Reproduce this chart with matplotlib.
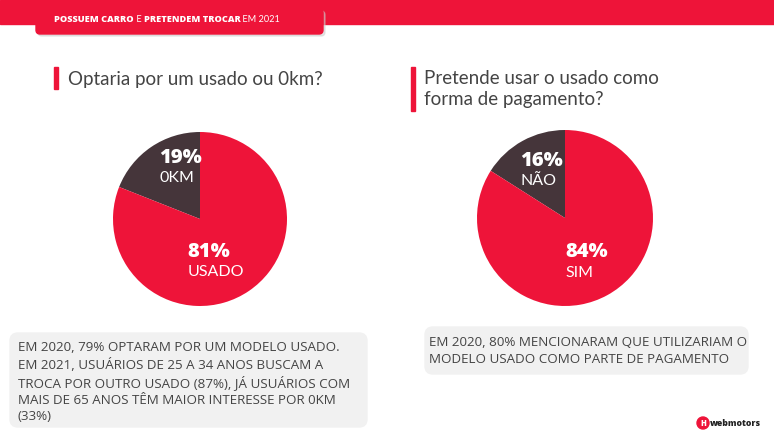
import matplotlib.pyplot as plt
from matplotlib.patches import FancyBboxPatch, Rectangle, Circle

RED = "#ee1439"
DARK = "#45353a"
GRAY_TXT = "#444444"
BOX = "#f1f1f1"

plt.rcParams['font.family'] = ['Lato', 'DejaVu Sans']
HEAVY = ["Open Sans", "DejaVu Sans"]

# data
pie1_labels = ["0KM", "USADO"]
pie1_values = [19, 81]
pie2_labels = ["NÃO", "SIM"]
pie2_values = [16, 84]
q1 = "Optaria por um usado ou 0km?"
q2 = "Pretende usar o usado como\nforma de pagamento?"
note1 = ("EM 2020, 79% OPTARAM POR UM MODELO USADO.\n"
         "EM 2021, USUÁRIOS DE 25 A 34 ANOS BUSCAM A\n"
         "TROCA POR OUTRO USADO (87%), JÁ USUÁRIOS COM\n"
         "MAIS DE 65 ANOS TÊM MAIOR INTERESSE POR 0KM\n"
         "(33%)")
note2 = ("EM 2020, 80% MENCIONARAM QUE UTILIZARIAM O\n"
         "MODELO USADO COMO PARTE DE PAGAMENTO")

W, H = 774, 436
fig = plt.figure(figsize=(W / 100, H / 100), dpi=100)
bg = fig.add_axes([0, 0, 1, 1])
bg.set_xlim(0, W)
bg.set_ylim(H, 0)
bg.axis("off")

# top band and title tab
bg.add_patch(Rectangle((0, 0), W, 24, color=RED, zorder=1))
bg.add_patch(FancyBboxPatch((38, 11), 287, 25, boxstyle="round,pad=0,rounding_size=4",
                            color="#cccccc", alpha=0.5, zorder=1.5))
bg.add_patch(FancyBboxPatch((36, 9), 287, 25, boxstyle="round,pad=0,rounding_size=4",
                            color=RED, zorder=2))
x = 54
for txt, w, fam in [("POSSUEM CARRO", "heavy", HEAVY), (" E ", "normal", None),
                    ("PRETENDEM TROCAR", "heavy", HEAVY), (" EM 2021", "normal", None)]:
    kw = {"fontfamily": fam} if fam else {}
    t = bg.text(x, 20, txt, color="white", fontsize=6.6, fontweight=w,
                va="center", ha="left", zorder=3, **kw)
    fig.canvas.draw()
    bb = t.get_window_extent()
    x += bb.width

# headings
bg.add_patch(Rectangle((54, 67), 3.5, 22, color=RED))
bg.text(68, 79, q1, fontsize=13.5, color=GRAY_TXT, va="center", ha="left")
bg.add_patch(Rectangle((411, 67), 3.5, 44, color=RED))
bg.text(424, 89, q2, fontsize=13.5, color=GRAY_TXT, va="center", ha="left",
        linespacing=1.25)

# note boxes
bg.add_patch(FancyBboxPatch((10, 333), 357, 94, boxstyle="round,pad=0,rounding_size=8",
                            color=BOX))
bg.text(18, 382, note1, fontsize=9.6, color=GRAY_TXT, va="center", ha="left",
        linespacing=1.33, fontfamily=["Open Sans", "DejaVu Sans"])
bg.add_patch(FancyBboxPatch((425, 327), 323, 47, boxstyle="round,pad=0,rounding_size=8",
                            color=BOX))
bg.text(429, 351, note2, fontsize=9.6, color=GRAY_TXT, va="center", ha="left",
        linespacing=1.33, fontfamily=["Open Sans", "DejaVu Sans"])

# logo
bg.add_patch(Circle((703, 423), 6, color=RED))
bg.text(703, 423, "H", color="white", fontsize=5.5, fontweight="heavy",
        ha="center", va="center", fontfamily=HEAVY)
bg.text(710, 423, "webmotors", color="#222222", fontsize=6.2, fontweight="heavy",
        ha="left", va="center", fontfamily=HEAVY)


def draw_pie(cx, cy, r, values, labels, lab_pos):
    ax = fig.add_axes([(cx - r) / W, (H - cy - r) / H, 2 * r / W, 2 * r / H])
    ax.pie(values, colors=[DARK, RED], startangle=90, counterclock=True,
           wedgeprops=dict(linewidth=0))
    ax.set_xlim(-1, 1)
    ax.set_ylim(-1, 1)
    ax.axis("off")
    for v, lab, (lx, ly) in zip(values, labels, lab_pos):
        ax.text(lx, ly, f"{v}%", color="white", fontsize=14.5, fontweight="heavy",
                ha="left", va="center", fontfamily=HEAVY)
        ax.text(lx, ly - 0.23, lab, color="white", fontsize=11.5, fontweight="normal",
                ha="left", va="center")


draw_pie(200, 219, 87, pie1_values, pie1_labels, [(-0.47, 0.70), (-0.14, -0.38)])
draw_pie(565, 218, 88, pie2_values, pie2_labels, [(-0.51, 0.65), (0.0, -0.39)])

fig.savefig("out.png", dpi=100)
